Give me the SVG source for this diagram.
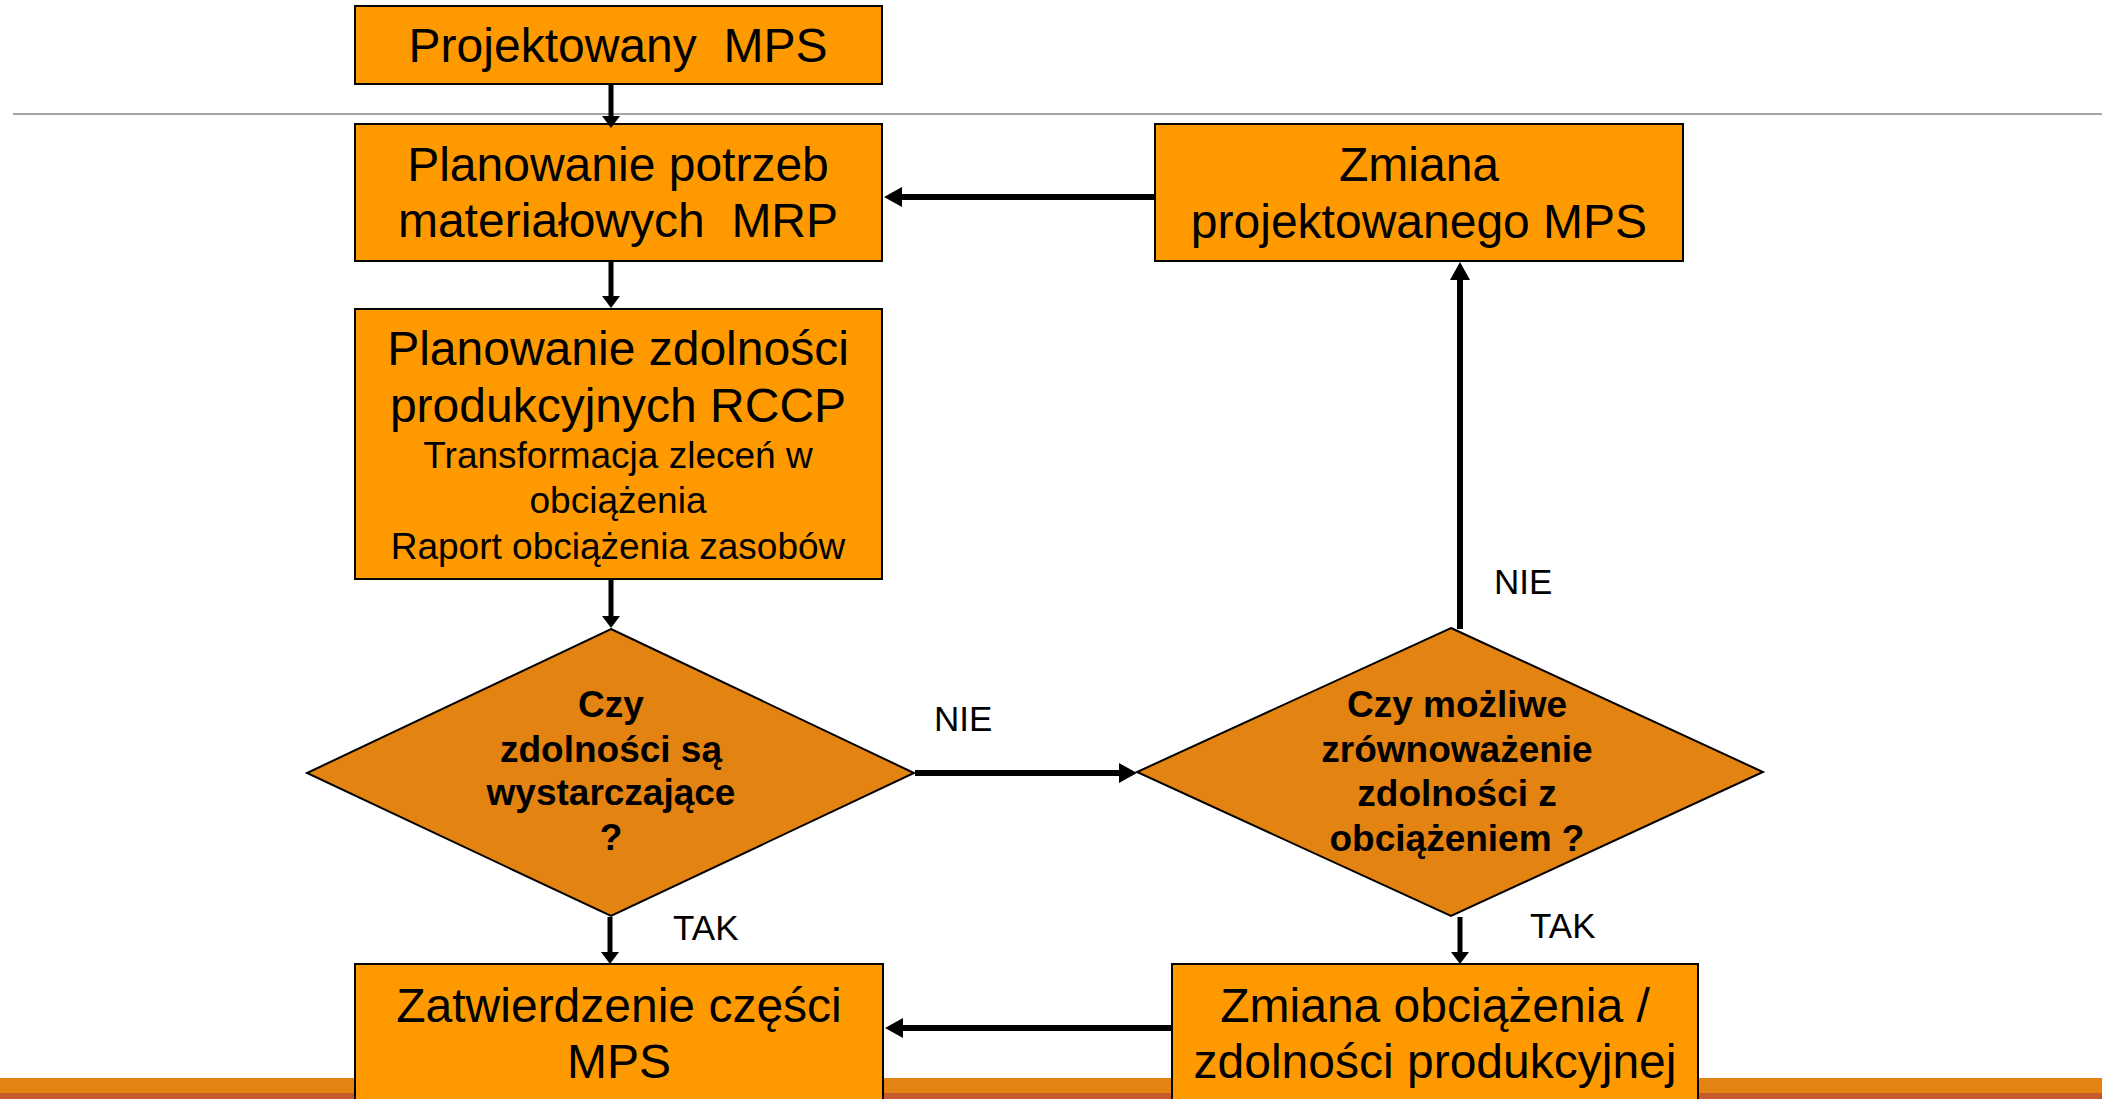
<svg xmlns="http://www.w3.org/2000/svg" width="2102" height="1099" viewBox="0 0 2102 1099">
<style>
.box{fill:#FF9900;stroke:#000;stroke-width:2}
.dia{fill:#E38312;stroke:#000;stroke-width:2}
.t{font-family:"Liberation Sans",Arial,sans-serif;fill:#000;text-anchor:middle}
.big{font-size:48px}
.sm{font-size:37px}
.q{font-size:37px;font-weight:bold}
.lbl{font-family:"Liberation Sans",Arial,sans-serif;font-size:35px;fill:#000}
.cv{stroke:#000;stroke-width:5;fill:none}
.ch{stroke:#000;stroke-width:6;fill:none}
</style>
<defs>
<marker id="arrS" markerUnits="userSpaceOnUse" markerWidth="12" markerHeight="18" viewBox="0 0 12 18" refX="0" refY="9" orient="auto"><path d="M0,0 L12,9 L0,18 z" fill="#000"/></marker>
<marker id="arrL" markerUnits="userSpaceOnUse" markerWidth="18" markerHeight="20" viewBox="0 0 18 20" refX="0" refY="10" orient="auto"><path d="M0,0 L18,10 L0,20 z" fill="#000"/></marker>
</defs>
<rect width="2102" height="1099" fill="#fff"/>
<line x1="13" y1="114" x2="2102" y2="114" stroke="#A6A6A6" stroke-width="2"/>
<rect x="0" y="1078" width="2102" height="15" fill="#E48312"/>
<rect x="0" y="1093" width="2102" height="6" fill="#C65A2C"/>

<g id="n1">
<rect class="box" x="355" y="6" width="527" height="78"/>
<text class="t big" x="618" y="62" xml:space="preserve">Projektowany  MPS</text>
</g>
<g id="n2">
<rect class="box" x="355" y="124" width="527" height="137"/>
<text class="t big" x="618" y="181">Planowanie potrzeb</text>
<text class="t big" x="618" y="237" xml:space="preserve">materiałowych  MRP</text>
</g>
<g id="n3">
<rect class="box" x="355" y="309" width="527" height="270"/>
<text class="t big" x="618" y="365">Planowanie zdolności</text>
<text class="t big" x="618" y="422">produkcyjnych RCCP</text>
<text class="t sm" x="618" y="468">Transformacja zleceń w</text>
<text class="t sm" x="618" y="513">obciążenia</text>
<text class="t sm" x="618" y="559">Raport obciążenia zasobów</text>
</g>
<g id="n4">
<polygon class="dia" points="611,629 914,773 611,916 307,773"/>
<text class="t q" x="611" y="717">Czy</text>
<text class="t q" x="611" y="762">zdolności są</text>
<text class="t q" x="611" y="805">wystarczające</text>
<text class="t q" x="611" y="850">?</text>
</g>
<g id="n5">
<polygon class="dia" points="1451,628 1763,772 1451,916 1137,772"/>
<text class="t q" x="1457" y="717">Czy możliwe</text>
<text class="t q" x="1457" y="762">zrównoważenie</text>
<text class="t q" x="1457" y="806">zdolności z</text>
<text class="t q" x="1457" y="851">obciążeniem ?</text>
</g>
<g id="n6">
<rect class="box" x="1155" y="124" width="528" height="137"/>
<text class="t big" x="1419" y="181">Zmiana</text>
<text class="t big" x="1419" y="238">projektowanego MPS</text>
</g>
<g id="n7">
<rect class="box" x="355" y="964" width="528" height="200"/>
<text class="t big" x="619" y="1022">Zatwierdzenie części</text>
<text class="t big" x="619" y="1078">MPS</text>
</g>
<g id="n8">
<rect class="box" x="1172" y="964" width="526" height="200"/>
<text class="t big" x="1435" y="1022">Zmiana obciążenia /</text>
<text class="t big" x="1435" y="1078">zdolności produkcyjnej</text>
</g>

<g id="connectors">
<line class="cv" x1="611" y1="85" x2="611" y2="116" marker-end="url(#arrS)"/>
<line class="cv" x1="611" y1="262" x2="611" y2="296" marker-end="url(#arrS)"/>
<line class="cv" x1="611" y1="580" x2="611" y2="616" marker-end="url(#arrS)"/>
<line class="cv" x1="610" y1="917" x2="610" y2="952" marker-end="url(#arrS)"/>
<line class="cv" x1="1460" y1="917" x2="1460" y2="952" marker-end="url(#arrS)"/>
<line class="ch" x1="1460" y1="629" x2="1460" y2="280" marker-end="url(#arrL)"/>
<line class="ch" x1="1155" y1="197" x2="902" y2="197" marker-end="url(#arrL)"/>
<line class="ch" x1="915" y1="773" x2="1119" y2="773" marker-end="url(#arrL)"/>
<line class="ch" x1="1171" y1="1028" x2="903" y2="1028" marker-end="url(#arrL)"/>
<text class="lbl" x="934" y="731">NIE</text>
<text class="lbl" x="1494" y="594">NIE</text>
<text class="lbl" x="673" y="940">TAK</text>
<text class="lbl" x="1530" y="938">TAK</text>
</g>
</svg>
